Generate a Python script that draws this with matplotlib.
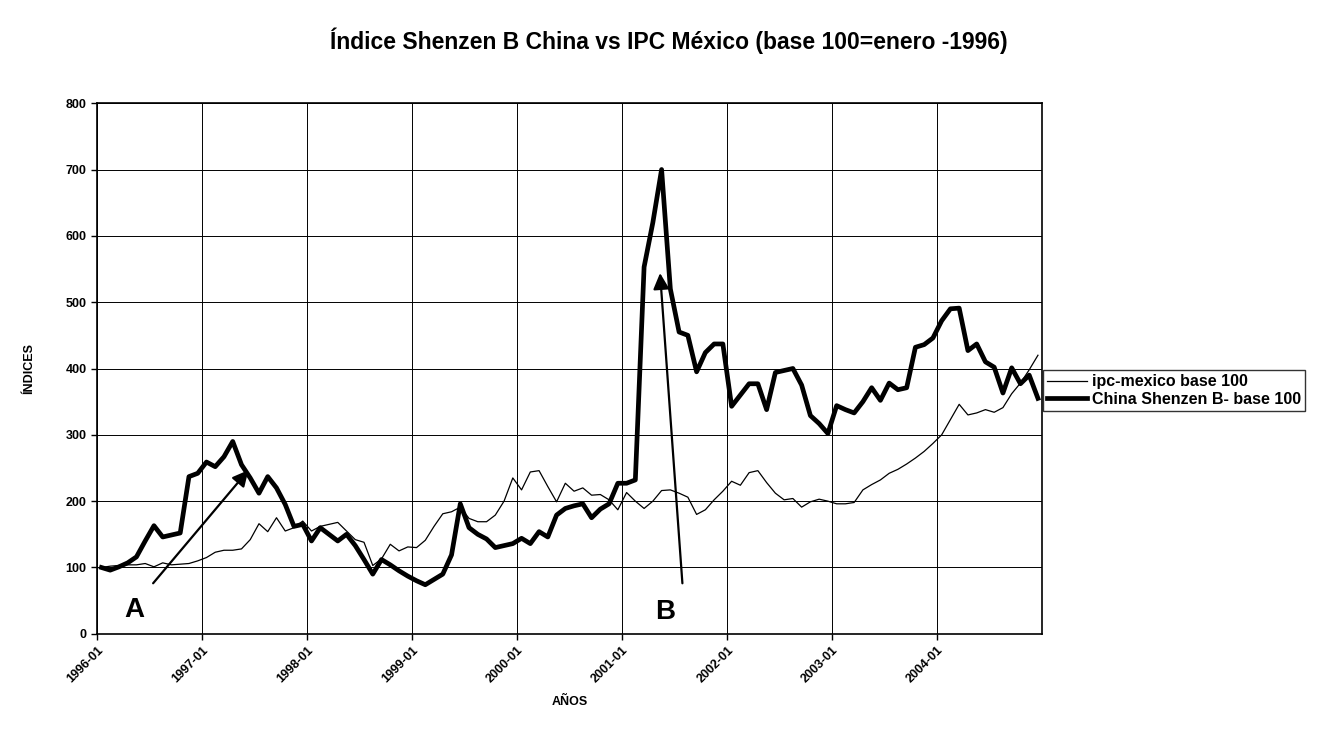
import numpy as np
import pandas as pd
import matplotlib
matplotlib.use("Agg")
import matplotlib.pyplot as plt

plt.rcParams['font.family'] = ['Liberation Sans', 'DejaVu Sans']

# monthly categories 1996-01 .. 2004-12
months = pd.date_range("1996-01-01", periods=108, freq="MS").strftime("%Y-%m").tolist()
tick_labels = ["1996-01", "1997-01", "1998-01", "1999-01", "2000-01",
               "2001-01", "2002-01", "2003-01", "2004-01"]

ipc_mexico = [100, 102, 103, 104, 104, 106, 101, 107, 104, 105, 106, 110,
              115, 123, 126, 126, 128, 142, 166, 154, 175, 155, 160, 170,
              155, 162, 165, 168, 155, 142, 138, 103, 113, 135, 125, 131,
              130, 141, 162, 181, 184, 191, 174, 169, 169, 179, 200, 235,
              217, 244, 246, 222, 199, 227, 215, 220, 209, 210, 202, 187,
              213, 200, 189, 200, 216, 217, 212, 206, 180, 187, 202, 215,
              230, 224, 243, 246, 228, 212, 202, 204, 191, 199, 203, 200,
              196, 196, 198, 217, 225, 232, 242, 248, 256, 265, 275, 287,
              300, 323, 346, 330, 333, 338, 334, 341, 362, 378, 398, 420]

china_b = [100, 96, 101, 107, 116, 140, 163, 146, 149, 152, 237, 242,
           259, 252, 267, 290, 255, 235, 212, 237, 220, 195, 162, 165,
           140, 160, 150, 140, 150, 133, 112, 90, 112, 104, 95, 87,
           80, 74, 82, 90, 119, 196, 160, 150, 143, 130, 133, 136,
           144, 136, 154, 146, 179, 189, 193, 196, 175, 188, 196, 227,
           227, 232, 553, 620, 700, 520, 455, 450, 395, 424, 437, 437,
           343, 360, 377, 377, 338, 394, 397, 400, 375, 329, 317, 302,
           344, 338, 333, 350, 371, 352, 378, 368, 371, 432, 436, 446,
           472, 490, 491, 427, 437, 410, 402, 363, 401, 377, 390, 355]

x = np.arange(len(months)) + 0.5

fig = plt.figure(figsize=(13.37, 7.37), dpi=100)
ax = fig.add_axes([0.0726, 0.140, 0.707, 0.720])

ax.plot(x, ipc_mexico, color='black', lw=0.9, label='ipc-mexico base 100')
ax.plot(x, china_b, color='black', lw=3.4, label='China Shenzen B- base 100')

ax.set_xlim(0, 108)
ax.set_ylim(0, 800)
ax.set_yticks(range(0, 801, 100))
ax.set_xticks(range(0, 108, 12))
ax.set_xticklabels(tick_labels, rotation=45, ha='right', rotation_mode='anchor',
                   fontsize=9, fontweight='bold')
for lab in ax.get_yticklabels():
    lab.set_fontsize(9)
    lab.set_fontweight('bold')
ax.grid(True, color='black', lw=0.7)
ax.tick_params(direction='out', length=4, width=1, color='black')
for s in ax.spines.values():
    s.set_color('black')
    s.set_linewidth(1.2)

ax.set_xlabel('AÑOS', fontsize=9, fontweight='bold', labelpad=8)
ax.set_ylabel('ÍNDICES', fontsize=9, fontweight='bold', labelpad=22)

fig.text(0.5, 0.945, 'Índice Shenzen B China vs IPC México (base 100=enero -1996)',
         ha='center', va='center', fontsize=16.5, fontweight='bold')

# annotations
ax.annotate('', xy=(17.5, 250), xytext=(6.2, 73),
            arrowprops=dict(arrowstyle='-|>', color='black', lw=1.6, mutation_scale=24))
ax.annotate('', xy=(64.3, 548), xytext=(66.9, 72),
            arrowprops=dict(arrowstyle='-|>', color='black', lw=1.6, mutation_scale=24))
ax.text(4.3, 36, 'A', fontsize=20, fontweight='bold', ha='center', va='center')
ax.text(64.9, 33, 'B', fontsize=20, fontweight='bold', ha='center', va='center')

leg = fig.legend(loc='center left', bbox_to_anchor=(0.780, 0.470), fontsize=11.5,
                 frameon=True, fancybox=False, edgecolor='black', handlelength=2.5,
                 borderpad=0.25, labelspacing=0.15, handletextpad=0.3,
                 borderaxespad=0)
leg.get_frame().set_linewidth(1.0)
for t in leg.get_texts():
    t.set_fontweight('bold')

fig.savefig('out.png', dpi=100)
